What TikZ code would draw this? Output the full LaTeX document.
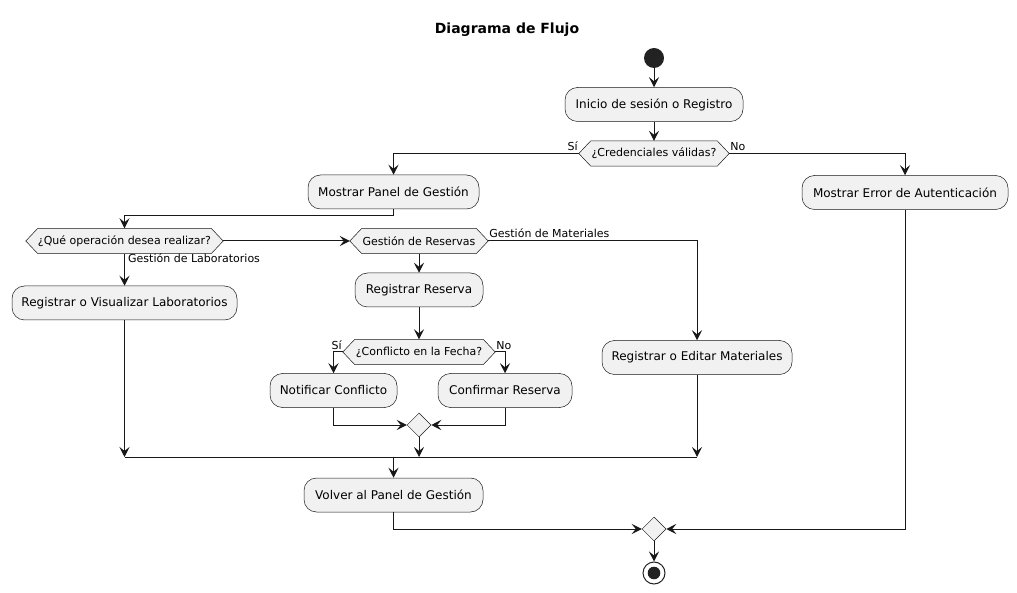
\documentclass[tikz,border=0pt]{standalone}
\usepackage{fontspec}
\setmainfont{DejaVu Sans}
\usetikzlibrary{arrows.meta,shapes.geometric,calc}
\pgfdeclarelayer{background}
\pgfsetlayers{background,main}
\definecolor{ln}{HTML}{181818}
\definecolor{bx}{HTML}{F1F1F1}
\definecolor{dk}{HTML}{222222}
\newcommand{\hexpath}[1]{%
  \path[hexfill] (#1.west) -- ([xshift=12pt]#1.north west) -- ([xshift=-12pt]#1.north east) -- (#1.east) -- ([xshift=-12pt]#1.south east) -- ([xshift=12pt]#1.south west) -- cycle;}
\begin{document}
\begin{tikzpicture}[x=1pt,y=-1pt,
  box/.style={draw=ln,fill=bx,line width=0.5pt,rounded corners=12.5pt,inner sep=0pt,
    font=\fontsize{12}{14}\selectfont,minimum width=#1,minimum height=34pt},
  hex/.style={inner sep=0pt,font=\fontsize{11}{13}\selectfont,minimum width=#1,minimum height=25pt},
  hexfill/.style={draw=ln,fill=bx,line width=0.5pt},
  lbl/.style={inner sep=0pt,font=\fontsize{11}{13}\selectfont},
  arr/.style={draw=ln,line width=1pt,-{Stealth[length=10pt,width=10pt,inset=4pt]}},
  wire/.style={draw=ln,line width=1pt},
  merge/.style={diamond,draw=ln,fill=bx,line width=0.5pt,minimum width=24pt,minimum height=24pt,inner sep=0pt},
  startc/.style={circle,fill=dk,minimum size=20pt,inner sep=0pt},
  endc/.style={circle,draw=dk,line width=1pt,minimum size=22pt,inner sep=0pt}
]
\useasboundingbox (0,0) rectangle (1017,593);

\node[font=\bfseries\fontsize{14}{16}\selectfont,anchor=base,inner sep=0pt] (title) at (507,34) {Diagrama de Flujo};

\node[startc] (start) at (654,58) {};
\node[box=178] (inicio) at (654,104.5) {Inicio de sesión o Registro};
\node[hex=150] (d1) at (654,153.5) {¿Credenciales válidas?};
\node[box=171] (panel) at (393.5,192) {Mostrar Panel de Gestión};
\node[box=206] (error) at (905,192.5) {Mostrar Error de Autenticación};
\node[hex=197] (d2) at (124.5,241) {¿Qué operación desea realizar?};
\node[hex=138] (d3) at (419,241) {Gestión de Reservas};
\node[box=225] (visual) at (124.5,303) {Registrar o Visualizar Laboratorios};
\node[box=128] (reserva) at (419,290) {Registrar Reserva};
\node[hex=152] (d4) at (419,352) {¿Conflicto en la Fecha?};
\node[box=127] (notif) at (333.5,390.5) {Notificar Conflicto};
\node[box=134] (confirm) at (505,390.5) {Confirmar Reserva};
\node[merge] (m1) at (419,425) {};
\node[box=190] (materiales) at (697,357.5) {Registrar o Editar Materiales};
\node[box=179] (volver) at (393.5,495) {Volver al Panel de Gestión};
\node[merge] (m2) at (654,529) {};
\node[endc] (end) at (654,573) {};
\fill[dk] (end.center) circle (6.3pt);

\coordinate (barL) at (124.5,457);
\coordinate (barV) at (393.5,457);
\coordinate (barM) at (419,457);
\coordinate (barR) at (697,457);

\begin{pgfonlayer}{background}
\fill[white] (0,0) rectangle (1017,593);
\hexpath{d1}
\hexpath{d2}
\hexpath{d3}
\hexpath{d4}
\end{pgfonlayer}

% labels
\node[lbl,anchor=base east] (lsi1) at ([xshift=-1pt,yshift=3pt]d1.west) {Sí};
\node[lbl,anchor=base west] (lno1) at ([xshift=1pt,yshift=3pt]d1.east) {No};
\node[lbl,anchor=base west] (llab) at (128,263) {Gestión de Laboratorios};
\node[lbl,anchor=base west] (lmat) at ([xshift=1pt,yshift=3pt]d3.east) {Gestión de Materiales};
\node[lbl,anchor=base east] (lsi2) at ([xshift=-1pt,yshift=3pt]d4.west) {Sí};
\node[lbl,anchor=base west] (lno2) at ([xshift=1pt,yshift=3pt]d4.east) {No};

% connectors
\draw[arr] (start) -- (inicio.north);
\draw[arr] (inicio.south) -- (d1.north);
\draw[arr] (d1.west) -| (panel.north);
\draw[arr] (d1.east) -| (error.north);
\draw[arr] (panel.south) -- ++(0,6) -| (d2.north);
\draw[arr] (d2.east) -- (d3.west);
\draw[arr] (d2.south) -- (visual.north);
\draw[arr] (d3.east) -| (materiales.north);
\draw[arr] (d3.south) -- (reserva.north);
\draw[arr] (reserva.south) -- (d4.north);
\draw[arr] (d4.west) -| (notif.north);
\draw[arr] (d4.east) -| (confirm.north);
\draw[arr] (notif.south) |- (m1.west);
\draw[arr] (confirm.south) |- (m1.east);
\draw[arr] (m1.south) -- (barM);
\draw[arr] (visual.south) -- (barL);
\draw[arr] (materiales.south) -- (barR);
\draw[wire] (barL) -- (barR);
\draw[arr] (barV) -- (volver.north);
\draw[arr] (volver.south) |- (m2.west);
\draw[arr] (error.south) |- (m2.east);
\draw[arr] (m2.south) -- (end.north);
\end{tikzpicture}
\end{document}
